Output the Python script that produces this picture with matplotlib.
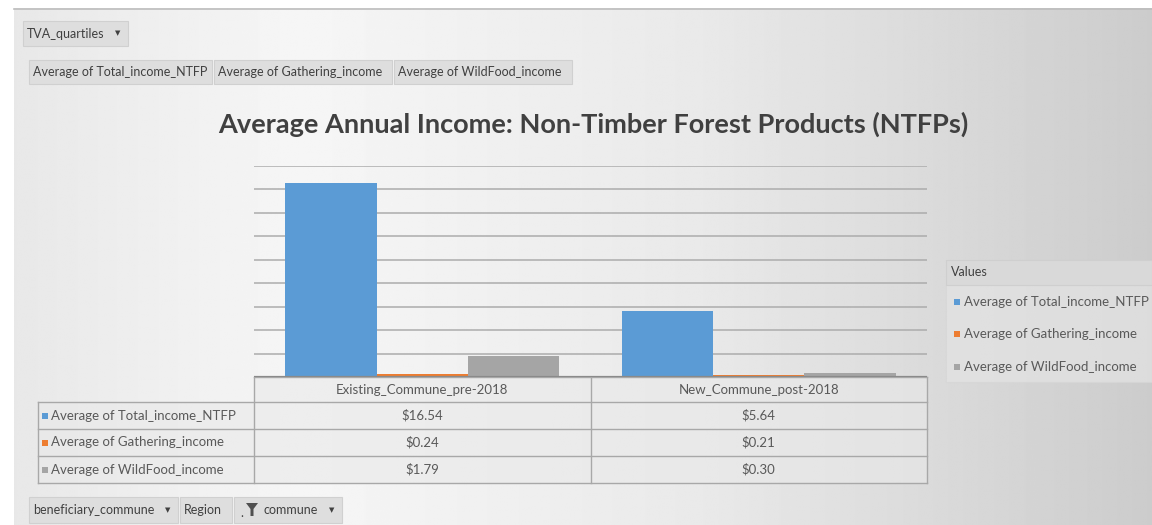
import numpy as np
import matplotlib
matplotlib.use("Agg")
import matplotlib.pyplot as plt
from matplotlib.patches import Rectangle, Polygon

# ---------------- data ----------------
categories = ["Existing_Commune_pre-2018", "New_Commune_post-2018"]
series_names = ["Average of Total_income_NTFP", "Average of Gathering_income",
                "Average of WildFood_income"]
total_income_ntfp = [16.54, 5.64]
gathering_income = [0.24, 0.21]
wildfood_income = [1.79, 0.30]
series_values = [total_income_ntfp, gathering_income, wildfood_income]
colors = ["#5B9BD5", "#ED7D31", "#A5A5A5"]
title = "Average Annual Income: Non-Timber Forest Products (NTFPs)"
top_buttons = ["Average of Total_income_NTFP", "Average of Gathering_income",
               "Average of WildFood_income"]

W, H = 1152, 525
FONT = "Lato"
plt.rcParams["font.family"] = [FONT, "DejaVu Sans"]

fig = plt.figure(figsize=(W / 100, H / 100), dpi=100)
fig.patch.set_facecolor("white")

# overlay axes in pixel coordinates
ov = fig.add_axes([0, 0, 1, 1], zorder=0)
ov.set_xlim(0, W)
ov.set_ylim(H, 0)
ov.axis("off")

# background gradient
xs = np.array([14, 300, 700, 1152])
vs = np.array([0.91, 0.965, 0.915, 0.80])
gx = np.interp(np.linspace(14, W, 600), xs, vs)
grad = np.tile(gx, (40, 1))
ov.imshow(grad, cmap="gray", vmin=0, vmax=1, extent=(14, W, H, 8),
          aspect="auto", zorder=0, interpolation="bilinear")
ov.plot([14, W], [8.5, 8.5], color="#bdbdbd", lw=1.2, zorder=1)

txtc = "#595959"


def button(x0, y0, x1, y1, label, arrow=False, fs=9, tx=4):
    ov.add_patch(Rectangle((x0, y0), x1 - x0, y1 - y0, facecolor="#dedede",
                           edgecolor="#d0d0d0", lw=0.8, zorder=2))
    ov.text(x0 + tx, (y0 + y1) / 2, label, fontsize=fs, color="#404040",
            va="center", ha="left", zorder=3)
    if arrow:
        ov.text(x1 - 10, (y0 + y1) / 2, "\u25BC", fontsize=5, color="#404040",
                va="center", ha="center", family="DejaVu Sans", zorder=3)


button(23, 21, 128, 46, "TVA_quartiles", arrow=True)
bx = [(29, 212), (214, 392), (394, 572)]
for (a, b), lab in zip(bx, top_buttons):
    button(a, 60, b, 84, lab)

# bottom buttons
button(29, 497, 178, 523, "beneficiary_commune", arrow=True)
button(180, 497, 232, 523, "Region")
button(234, 497, 342, 523, "commune", arrow=True, tx=30)
ov.add_patch(Polygon([[246, 503], [258, 503], [253.5, 509], [253.5, 516],
                      [250.5, 516], [250.5, 509]], closed=True,
                     facecolor="#505050", edgecolor="none", zorder=3))
ov.text(242, 513, ".", fontsize=9, color="#404040", ha="center", va="center", zorder=3)

# title
ov.text(593, 133, title, fontsize=19.5, fontweight="bold", color="#404040",
        ha="center", va="baseline", zorder=3)

# ---------------- chart ----------------
px_l, px_r, px_t, px_b = 254, 927, 166, 377
ax = fig.add_axes([px_l / W, 1 - px_b / H, (px_r - px_l) / W, (px_b - px_t) / H],
                  zorder=2)
ax.set_facecolor("none")
n = len(series_values)
bw = 0.2715
x = np.arange(len(categories))
for i, (vals, c) in enumerate(zip(series_values, colors)):
    ax.bar(x + (i - (n - 1) / 2) * bw, vals, width=bw, color=c, zorder=3)
ax.set_xlim(-0.5, len(categories) - 0.5)
ax.set_ylim(0, 18)
ax.set_yticks(np.arange(2, 19, 2))
ax.yaxis.grid(True, color="#acacac", lw=1.1, zorder=0)
ax.set_axisbelow(True)
ax.tick_params(left=False, bottom=False, labelleft=False, labelbottom=False)
for s in ax.spines.values():
    s.set_visible(False)
ax.axhline(0, color="#8a8a8a", lw=1.6, zorder=4)

# ---------------- data table ----------------
tbl_left = 38
col_x = [px_l, (px_l + px_r) / 2, px_r]
row_y = [377, 402, 429, 456, 483]
lc = "#a8a8a8"
ov.add_patch(Rectangle((tbl_left, row_y[1]), px_r - tbl_left, row_y[-1] - row_y[1],
                       facecolor="#e9e9e9", edgecolor="none", zorder=1.5, alpha=0.6))
ov.add_patch(Rectangle((px_l, row_y[0]), px_r - px_l, row_y[1] - row_y[0],
                       facecolor="#e9e9e9", edgecolor="none", zorder=1.5, alpha=0.6))
ov.plot([px_l, px_r], [row_y[0], row_y[0]], color=lc, lw=1, zorder=2)
for yy in row_y[1:]:
    ov.plot([tbl_left, px_r], [yy, yy], color=lc, lw=1, zorder=2)
ov.plot([tbl_left, tbl_left], [row_y[1], row_y[-1]], color=lc, lw=1, zorder=2)
for cx in col_x:
    ov.plot([cx, cx], [row_y[0], row_y[-1]], color=lc, lw=1, zorder=2)

fs_t = 9.5
for j, cat in enumerate(categories):
    ov.text((col_x[j] + col_x[j + 1]) / 2, (row_y[0] + row_y[1]) / 2, cat,
            fontsize=fs_t, color=txtc, ha="center", va="center", zorder=3)
for i, (name, vals, c) in enumerate(zip(series_names, series_values, colors)):
    yc = (row_y[i + 1] + row_y[i + 2]) / 2
    ov.add_patch(Rectangle((42, yc - 3), 6, 6, facecolor=c, edgecolor="none", zorder=3))
    ov.text(51, yc, name, fontsize=fs_t, color=txtc, ha="left", va="center", zorder=3)
    for j, v in enumerate(vals):
        ov.text((col_x[j] + col_x[j + 1]) / 2, yc, f"${v:.2f}", fontsize=fs_t,
                color=txtc, ha="center", va="center", zorder=3)

# ---------------- legend panel ----------------
ov.add_patch(Rectangle((946, 260), W - 946, 25, facecolor="#d9d9d9",
                       edgecolor="#cfcfcf", lw=0.8, zorder=2))
ov.text(951, 272.5, "Values", fontsize=9, color="#404040", ha="left",
        va="center", zorder=3)
ov.add_patch(Rectangle((946, 285), W - 946, 97, facecolor="#e4e4e4",
                       edgecolor="#d6d6d6", lw=0.8, zorder=1.5, alpha=0.7))
leg_y = [302, 334, 367]
for yy, name, c in zip(leg_y, series_names, colors):
    ov.add_patch(Rectangle((954, yy - 3), 6, 6, facecolor=c, edgecolor="none", zorder=3))
    ov.text(964, yy, name, fontsize=fs_t, color=txtc, ha="left", va="center",
            zorder=3, clip_on=True)

fig.savefig("out.png", dpi=100)
